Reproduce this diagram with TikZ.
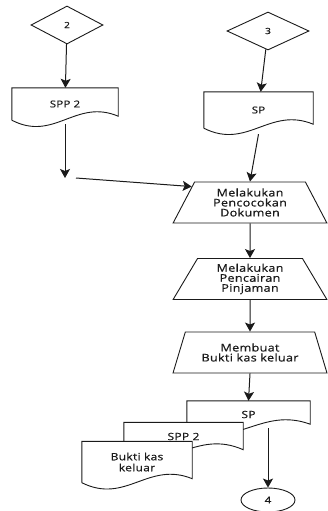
\documentclass[tikz,border=0pt]{standalone}
\usepackage{fontspec}
\usepackage{tikz}
\usetikzlibrary{calc,shapes.geometric,arrows.meta}
\newfontfamily\flowfont{Open Sans}[FakeStretch=1.2,LetterSpace=3,FakeBold=0.6]
\definecolor{ink}{HTML}{1A1A1A}
\tikzset{
  conn/.style={draw=ink, line width=1pt, -{Stealth[length=9pt,width=10pt,inset=2pt]}},
  proc/.style={trapezium, trapezium stretches=true, trapezium left angle=63,
    trapezium right angle=63, minimum width=154pt, minimum height=41pt,
    draw=ink, line width=0.9pt, fill=white, align=center, inner sep=0pt,
    font=\flowfont\fontsize{10.5}{10}\selectfont},
  conn2/.style={diamond, draw=ink, line width=0.9pt, minimum width=#1, minimum height=38pt,
    inner sep=0pt, font=\flowfont\fontsize{8.5}{8.5}\selectfont},
  endpt/.style={ellipse, draw=ink, line width=0.9pt, minimum width=54pt, minimum height=24pt,
    inner sep=0pt, font=\flowfont\fontsize{9.5}{9.5}\selectfont},
  docu/.style={rectangle, fill=white, draw=none, align=center, inner sep=0pt},
  docline/.style={draw=ink, line width=0.9pt},
  every node/.style={text=ink}
}
% outline of a document symbol round a named node
\newcommand{\docout}[2][4]{%
  \draw[docline] (#2.south west) -- (#2.north west) -- (#2.north east)
    -- ($(#2.south east)+(0,-#1)$)
    .. controls ($(#2.south west)!0.6!(#2.south east)+(0,-22)$)
    and ($(#2.south west)!0.4!(#2.south east)+(0,22)$) .. (#2.south west);}
\begin{document}
\begin{tikzpicture}[x=1pt,y=-1pt]
  \useasboundingbox (0,0) rectangle (327,511);

  \node[conn2=72pt] (d2) at (67,25) {2};
  \node[conn2=82pt] (d3) at (268,31) {3};

  \node[docu, minimum width=106pt, minimum height=32pt,
    font=\flowfont\fontsize{9.5}{9.5}\selectfont] (spp2a) at (65,104) {SPP 2};
  \docout{spp2a}
  \node[docu, minimum width=109pt, minimum height=36pt,
    font=\flowfont\fontsize{9.5}{9.5}\selectfont] (sp1) at (258.5,110) {SP};
  \docout{sp1}

  \coordinate (j) at (65,178);

  \node[proc] (t1) at (250,202.5) {Melakukan\\Pencocokan\\Dokumen};
  \node[proc] (t2) at (250,279) {Melakukan\\Pencairan\\Pinjaman};
  \node[proc] (t3) at (250,352.5) {Membuat\\Bukti kas keluar};

  \node[docu, minimum width=123pt, minimum height=27pt,
    font=\flowfont\fontsize{10}{10}\selectfont] (sp2) at (248.5,414.5) {SP};
  \docout{sp2}
  \node[docu, minimum width=119pt, minimum height=28pt,
    font=\flowfont\fontsize{10}{10}\selectfont] (spp2b) at (183.5,436.5) {SPP 2};
  \docout[1]{spp2b}
  \node[docu, minimum width=110pt, minimum height=41pt,
    font=\flowfont\fontsize{10}{11}\selectfont] (bukti) at (137,462) {Bukti kas\\keluar};
  \docout{bukti}

  \node[endpt] (e4) at (268,500) {4};

  \draw[conn] (d2) -- (spp2a);
  \draw[conn] (d3) -- (sp1);
  \draw[conn] ($(spp2a.south)+(0,4)$) -- (j);
  \draw[conn] ($(j)+(11,0)$) -- ($(t1.top left corner)!0.12!(t1.bottom left corner)$);
  \draw[conn] ($(sp1.south)+(0,6)$) -- (t1.north);
  \draw[conn] (t1) -- (t2);
  \draw[conn] (t2) -- (t3);
  \draw[conn] (t3.south) -- (sp2.north);
  \draw[conn] (sp2.south -| e4.north) -- (e4.north);
\end{tikzpicture}
\end{document}
